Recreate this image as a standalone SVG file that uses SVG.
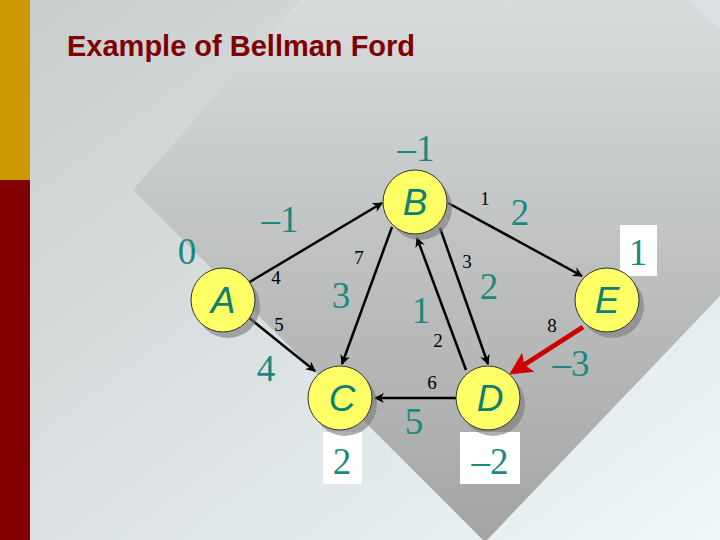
<svg xmlns="http://www.w3.org/2000/svg" width="720" height="540" viewBox="0 0 720 540">
<defs>
<linearGradient id="bg" x1="0" y1="0" x2="1" y2="1"><stop offset="0" stop-color="#c8cccc"/><stop offset="1" stop-color="#eef6f8"/></linearGradient>
<linearGradient id="dm" x1="0" y1="0" x2="0" y2="1"><stop offset="0" stop-color="#d8dcdc"/><stop offset="1" stop-color="#a4a4a4"/></linearGradient>
<marker id="ar" viewBox="0 0 10 10" refX="9" refY="5" markerWidth="11" markerHeight="10" orient="auto" markerUnits="userSpaceOnUse"><path d="M0,0 L10,5 L0,10 L3,5 z" fill="#000"/></marker>
<marker id="arr" viewBox="0 0 10 10" refX="8" refY="5" markerWidth="4.5" markerHeight="4.5" orient="auto"><path d="M0,0 L10,5 L0,10 L2,5 z" fill="#d00000"/></marker>
</defs>
<style>
.n circle.s{fill:#7a7a7a;opacity:.6}
.n circle.f{fill:#ffff66;stroke:#333;stroke-width:1}
.n text{font-family:"Liberation Sans",Arial,sans-serif;font-style:italic;font-size:37px;fill:#0e8070;text-anchor:middle}
.w{font-family:"Liberation Serif","Times New Roman",serif;font-size:19px;fill:#000;text-anchor:middle}
.d{font-family:"Liberation Serif","Times New Roman",serif;font-size:37px;fill:#1a8a80;text-anchor:middle}
.e{stroke:#000;stroke-width:2.5;fill:none;marker-end:url(#ar)}
</style>
<rect width="720" height="540" fill="url(#bg)"/>
<polygon points="300,0 690,0 720,30 720,296 487,540 483,540 133,190" fill="url(#dm)"/>
<rect x="0" y="0" width="30" height="180" fill="#cc9900"/>
<rect x="0" y="180" width="30" height="360" fill="#800000"/>
<text x="67" y="56" font-family="Liberation Sans,Arial,sans-serif" font-size="29" font-weight="bold" fill="#800000">Example of Bellman Ford</text>
<rect x="620" y="225" width="37" height="51" fill="#fff"/>
<rect x="323" y="432" width="39" height="52" fill="#fff"/>
<rect x="460" y="432" width="60" height="52" fill="#fff"/>
<g id="connectors">
<line class="e" x1="248" y1="283" x2="382" y2="203"/>
<line class="e" x1="248" y1="317" x2="315" y2="371"/>
<line class="e" x1="392" y1="227" x2="342" y2="364"/>
<line class="e" x1="448" y1="203" x2="582" y2="276"/>
<line class="e" x1="440" y1="228" x2="488" y2="364"/>
<line class="e" x1="466" y1="370" x2="417" y2="238"/>
<line class="e" x1="456" y1="398" x2="375" y2="398"/>
<line x1="583" y1="327" x2="513" y2="372" stroke="#d00000" stroke-width="5" marker-end="url(#arr)"/>
</g>
<g id="A" class="n"><circle class="s" cx="228" cy="306" r="32"/><circle class="f" cx="223" cy="300" r="32"/><text x="223" y="313">A</text></g>
<g id="B" class="n"><circle class="s" cx="420" cy="208" r="32"/><circle class="f" cx="415" cy="202" r="32"/><text x="415" y="215">B</text></g>
<g id="C" class="n"><circle class="s" cx="345" cy="404" r="32"/><circle class="f" cx="340" cy="398" r="32"/><text x="342" y="411">C</text></g>
<g id="D" class="n"><circle class="s" cx="493" cy="404" r="32"/><circle class="f" cx="488" cy="398" r="32"/><text x="490" y="411">D</text></g>
<g id="E" class="n"><circle class="s" cx="612" cy="306" r="32"/><circle class="f" cx="607" cy="300" r="32"/><text x="607" y="313">E</text></g>
<text class="w" x="276" y="284">4</text>
<text class="w" x="279" y="331">5</text>
<text class="w" x="359" y="264">7</text>
<text class="w" x="485" y="205">1</text>
<text class="w" x="467" y="268">3</text>
<text class="w" x="438" y="347">2</text>
<text class="w" x="552" y="332">8</text>
<text class="w" x="432" y="389">6</text>
<text class="d" x="187" y="264">0</text>
<text class="d" x="416" y="161">–1</text>
<text class="d" x="280" y="232">–1</text>
<text class="d" x="266" y="381">4</text>
<text class="d" x="341" y="308">3</text>
<text class="d" x="520" y="225">2</text>
<text class="d" x="489" y="299">2</text>
<text class="d" x="421" y="323">1</text>
<text class="d" x="571" y="376">–3</text>
<text class="d" x="414" y="434">5</text>
<text class="d" x="638" y="265">1</text>
<text class="d" x="342" y="474">2</text>
<text class="d" x="490" y="474">–2</text>
</svg>
